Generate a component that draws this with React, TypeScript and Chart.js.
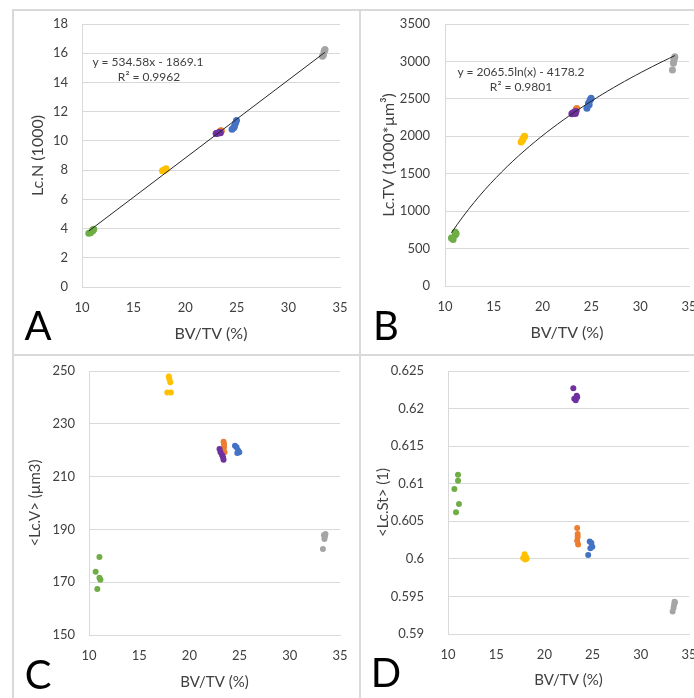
import React, { useEffect, useRef } from 'react';
import { Chart, registerables } from 'chart.js';
Chart.register(...registerables);

const FONT = 'Lato, "Open Sans", sans-serif';
const TEXT = '#404040';
const GRID = '#d9d9d9';

// BV/TV (%) of each sample, per group
const bvtvGreen = [10.66, 11.04, 11.04, 11.14, 10.83];
const bvtvYellow = [17.8, 17.95, 18.0, 18.1, 18.15];
const bvtvPurple = [23.0, 23.1, 23.25, 23.35, 23.4];
const bvtvOrange = [23.4, 23.45, 23.45, 23.4, 23.5];
const bvtvBlue = [24.54, 24.7, 24.87, 24.97, 24.77];
const bvtvGray = [33.3, 33.4, 33.45, 33.5, 33.55];

// Panel A: Lc.N (1000)
const lcnGreen = [3.68, 3.9, 3.85, 3.95, 3.72];
const lcnYellow = [7.95, 7.98, 8.02, 8.05, 8.1];
const lcnPurple = [10.5, 10.52, 10.55, 10.58, 10.55];
const lcnOrange = [10.6, 10.65, 10.7, 10.62, 10.68];
const lcnBlue = [10.8, 10.9, 11.2, 11.4, 11.0];
const lcnGray = [15.8, 15.9, 16.1, 16.2, 16.25];

// Panel B: Lc.TV (1000*µm³)
const lctvGreen = [640, 720, 680, 700, 620];
const lctvYellow = [1925, 1950, 1970, 1990, 2000];
const lctvPurple = [2300, 2310, 2320, 2305, 2330];
const lctvOrange = [2330, 2345, 2360, 2340, 2370];
const lctvBlue = [2375, 2440, 2485, 2507, 2420];
const lctvGray = [2885, 2975, 3019, 3040, 3063];

// Panel C: <Lc.V> (µm3)
const lcvGreen = [174, 179.5, 171.7, 170.9, 167.4];
const lcvYellow = [241.9, 247.9, 247, 245.7, 241.9];
const lcvPurple = [220.5, 219.2, 218.2, 217.3, 216.4];
const lcvOrange = [223.2, 222.3, 221.1, 219.8, 219.2];
const lcvBlue = [221.7, 221.1, 219.8, 219.2, 218.9];
const lcvGray = [182.6, 187.8, 186.4, 187.4, 188.3];

// Panel D: <Lc.St> (1)
const lcstGreen = [0.6093, 0.6112, 0.6104, 0.6073, 0.6062];
const lcstYellow = [0.6001, 0.6006, 0.5999, 0.6002, 0.6];
const lcstPurple = [0.6227, 0.6213, 0.6211, 0.6217, 0.6215];
const lcstOrange = [0.6041, 0.6033, 0.6029, 0.6024, 0.6019];
const lcstBlue = [0.6005, 0.6023, 0.6021, 0.6016, 0.6014];
const lcstGray = [0.593, 0.5935, 0.5939, 0.5943, 0.5942];

const groupColors = ['#70ad47', '#ffc000', '#7030a0', '#ed7d31', '#4472c4', '#a5a5a5'];
const groupX = [bvtvGreen, bvtvYellow, bvtvPurple, bvtvOrange, bvtvBlue, bvtvGray];

// Trendline coefficients (as printed on the chart)
const linSlope = 534.58;
const linIntercept = -1869.1;
const logCoef = 2065.5;
const logIntercept = -4178.2;

const xTickLabels = [10, 15, 20, 25, 30, 35];

const allX = groupX.flat();
const xMinData = Math.min(...allX);
const xMaxData = Math.max(...allX);

function linTrend() {
  return [xMinData, xMaxData].map((x) => ({ x, y: (linSlope * x + linIntercept) / 1000 }));
}
function logTrend() {
  const pts: { x: number; y: number }[] = [];
  const n = 40;
  for (let i = 0; i <= n; i++) {
    const x = xMinData + ((xMaxData - xMinData) * i) / n;
    pts.push({ x, y: logCoef * Math.log(x) + logIntercept });
  }
  return pts;
}

type PanelProps = {
  left: number; top: number; width: number; height: number;
  pad: { left: number; right: number; top: number; bottom: number };
  yWidth: number; xHeight: number;
  yTickPad: number; xTickPad: number;
  yMin: number; yMax: number; yStep: number;
  yTitle: string; tickSize: number; titleSize: number;
  values: number[][]; radius: number;
  trend?: { x: number; y: number }[];
  fmt?: (v: number) => string;
};

function Panel(p: PanelProps) {
  const ref = useRef<HTMLCanvasElement>(null);
  useEffect(() => {
    const datasets: any[] = [];
    if (p.trend) {
      datasets.push({
        data: p.trend, showLine: true, pointRadius: 0, borderColor: '#262626',
        borderWidth: 1, order: 0, tension: 0,
      });
    }
    p.values.forEach((vals, gi) => {
      datasets.push({
        data: vals.map((y, i) => ({ x: groupX[gi][i], y })),
        pointRadius: p.radius, pointBackgroundColor: groupColors[gi],
        pointBorderColor: groupColors[gi], pointBorderWidth: 0, showLine: false, order: 1,
      });
    });
    const chart = new Chart(ref.current!, {
      type: 'scatter',
      data: { datasets },
      options: {
        animation: false, responsive: false, maintainAspectRatio: false, events: [],
        layout: { padding: p.pad },
        plugins: { legend: { display: false }, tooltip: { enabled: false } },
        scales: {
          x: {
            type: 'linear', min: 10, max: 35,
            afterBuildTicks: (s: any) => { s.ticks = xTickLabels.map((v) => ({ value: v })); },
            ticks: { padding: p.xTickPad, color: TEXT, font: { family: FONT, size: p.tickSize }, maxRotation: 0, autoSkip: false },
            grid: { display: false, drawTicks: false },
            border: { display: true, color: GRID, width: 1 },
            title: { display: true, text: 'BV/TV (%)', color: TEXT, font: { family: FONT, size: p.titleSize }, padding: { top: 4, bottom: 4 } },
            afterFit: (s: any) => { s.height = p.xHeight; s.paddingLeft = 0; s.paddingRight = 0; },
          },
          y: {
            type: 'linear', min: p.yMin, max: p.yMax,
            ticks: {
              stepSize: p.yStep, padding: p.yTickPad, color: TEXT,
              font: { family: FONT, size: p.tickSize },
              callback: (v: any) => (p.fmt ? p.fmt(Number(v)) : String(v)),
            },
            grid: { color: GRID, lineWidth: 1, drawTicks: false },
            border: { display: true, color: GRID, width: 1 },
            title: { display: true, text: p.yTitle, color: TEXT, font: { family: FONT, size: p.titleSize }, padding: { top: 4, bottom: 4 } },
            afterFit: (s: any) => { s.width = p.yWidth; s.paddingTop = 0; s.paddingBottom = 0; },
          },
        },
      } as any,
    });
    return () => chart.destroy();
  }, []);
  return (
    <canvas ref={ref} width={p.width} height={p.height}
      style={{ position: 'absolute', left: p.left, top: p.top, width: p.width, height: p.height }} />
  );
}

const letterStyle = (x: number, y: number): React.CSSProperties => ({
  position: 'absolute', left: x, top: y, transform: 'translate(-50%, -50%)',
  fontFamily: FONT, fontSize: 40, lineHeight: 1, color: '#000',
});
const eqStyle = (x: number, y: number): React.CSSProperties => ({
  position: 'absolute', left: x, top: y, transform: 'translate(-50%, -50%)',
  fontFamily: FONT, fontSize: 12, lineHeight: 1, color: TEXT, whiteSpace: 'nowrap',
});

export default function App() {
  const fmtD = (v: number) => String(parseFloat(v.toFixed(3)));
  return (
    <div style={{ position: 'absolute', left: 0, top: 0, width: 694, height: 698, background: '#fff', overflow: 'hidden' }}>
      <Panel left={13} top={10} width={347} height={345}
        pad={{ left: 11, right: 20, top: 14, bottom: 8 }} yWidth={58} xHeight={60}
        yTickPad={14} xTickPad={13} yMin={0} yMax={18} yStep={2}
        yTitle="Lc.N (1000)" tickSize={13} titleSize={16}
        values={[lcnGreen, lcnYellow, lcnPurple, lcnOrange, lcnBlue, lcnGray]} radius={3.5}
        trend={linTrend()} />
      <Panel left={360} top={10} width={334} height={345}
        pad={{ left: 15, right: 5, top: 14, bottom: 9 }} yWidth={70} xHeight={60}
        yTickPad={15} xTickPad={13} yMin={0} yMax={3500} yStep={500}
        yTitle="Lc.TV (1000*µm³)" tickSize={13} titleSize={16}
        values={[lctvGreen, lctvYellow, lctvPurple, lctvOrange, lctvBlue, lctvGray]} radius={3.5}
        trend={logTrend()} />
      <Panel left={13} top={355} width={347} height={343}
        pad={{ left: 9, right: 20, top: 16, bottom: 3 }} yWidth={67} xHeight={60}
        yTickPad={14} xTickPad={13} yMin={150} yMax={250} yStep={20}
        yTitle="<Lc.V> (µm3)" tickSize={13} titleSize={15}
        values={[lcvGreen, lcvYellow, lcvPurple, lcvOrange, lcvBlue, lcvGray]} radius={3} />
      <Panel left={360} top={355} width={334} height={343}
        pad={{ left: 10, right: 5, top: 16, bottom: 5 }} yWidth={78} xHeight={59}
        yTickPad={24} xTickPad={13} yMin={0.59} yMax={0.625} yStep={0.005}
        yTitle="<Lc.St> (1)" tickSize={13} titleSize={15}
        values={[lcstGreen, lcstYellow, lcstPurple, lcstOrange, lcstBlue, lcstGray]} radius={3}
        fmt={fmtD} />

      <div style={eqStyle(148, 62)}>y = 534.58x - 1869.1</div>
      <div style={eqStyle(149, 77)}>R² = 0.9962</div>
      <div style={eqStyle(521, 72)}>y = 2065.5ln(x) - 4178.2</div>
      <div style={eqStyle(521, 87)}>R² = 0.9801</div>

      <div style={letterStyle(38, 325)}>A</div>
      <div style={letterStyle(386, 325)}>B</div>
      <div style={letterStyle(38, 674)}>C</div>
      <div style={letterStyle(386, 672)}>D</div>

      <div style={{ position: 'absolute', left: 13, top: 9, width: 681, height: 2, background: GRID }} />
      <div style={{ position: 'absolute', left: 12, top: 9, width: 2, height: 689, background: GRID }} />
      <div style={{ position: 'absolute', left: 359, top: 9, width: 2, height: 689, background: GRID }} />
      <div style={{ position: 'absolute', left: 13, top: 354, width: 681, height: 2, background: GRID }} />
    </div>
  );
}
